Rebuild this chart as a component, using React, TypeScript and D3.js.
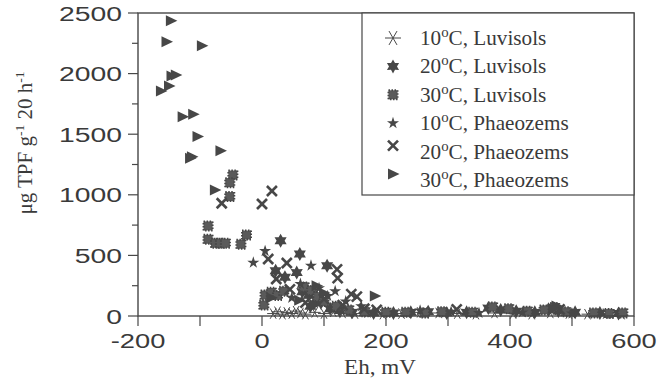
import React from 'react';
import * as d3 from 'd3';

// Eh (mV), TPF (µg g-1 20 h-1) pairs
const luv10 = [[18,20],[25,35],[33,15],[40,30],[48,20],[55,40],[62,25],[70,15],[85,30],[100,20],[115,35],[130,25],[150,20],[170,30],[195,15],[225,20],[255,30],[285,25],[315,20],[345,15],[375,25],[405,20],[435,15],[465,25],[495,20],[525,15],[555,20],[580,15]];
const luv20 = [[30,621],[61,511],[105,415],[22,374],[56,358],[37,319],[65,200],[75,170],[88,140],[95,110],[78,80],[110,60],[125,45],[145,30],[180,25],[212,25],[240,30],[268,35],[298,25],[330,30],[365,65],[385,50],[410,40],[440,30],[462,55],[478,40],[505,30],[545,25],[575,20]];
const luv30 = [[-47,1163],[-52,1100],[-52,985],[-87,743],[-87,633],[-75,600],[-67,600],[-59,600],[-34,592],[-25,668],[3,91],[5,173],[15,195],[25,170],[35,205],[68,240],[80,210],[90,160],[100,120],[120,80],[140,50],[165,35],[200,30],[232,30],[262,25],[290,35],[340,30],[372,75],[398,60],[428,40],[455,50],[472,70],[490,35],[535,25],[560,20],[582,25]];
const pha10 = [[-14,440],[5,536],[79,415],[106,165],[118,205],[135,120],[62,265],[48,150],[92,230],[160,80],[255,45],[305,35],[350,25],[420,30],[500,20]];
const pha20 = [[-65,930],[0,924],[16,1031],[10,470],[40,437],[23,305],[45,220],[121,385],[122,313],[153,160],[144,180],[185,50],[314,55],[70,110],[130,90],[165,60],[480,55],[100,140]];
const pha30 = [[-147,2436],[-154,2263],[-97,2230],[-146,1980],[-139,1988],[-150,1898],[-163,1856],[-128,1644],[-111,1664],[-104,1480],[-67,1364],[-116,1301],[-113,1314],[-76,1040],[88,250],[182,165],[475,82],[15,150],[60,130],[85,90],[100,190],[470,60]];

const xTicks = [-200, 0, 200, 400, 600];
const yTicks = [0, 500, 1000, 1500, 2000, 2500];

const series = [
  { key: 'asterisk', temp: '10', soil: 'Luvisols', data: luv10 },
  { key: 'hexagram', temp: '20', soil: 'Luvisols', data: luv20 },
  { key: 'octagram', temp: '30', soil: 'Luvisols', data: luv30 },
  { key: 'star', temp: '10', soil: 'Phaeozems', data: pha10 },
  { key: 'cross', temp: '20', soil: 'Phaeozems', data: pha20 },
  { key: 'triangle', temp: '30', soil: 'Phaeozems', data: pha30 },
];

const ink = '#474747';

const starPath = (n: number, ro: number, ri: number, rot = -Math.PI / 2) => {
  const pts = d3.range(n * 2).map(i => {
    const a = rot + (i * Math.PI) / n;
    const r = i % 2 === 0 ? ro : ri;
    return [Math.cos(a) * r, Math.sin(a) * r];
  });
  return 'M' + pts.map(p => p.join(',')).join('L') + 'Z';
};

const Marker = ({ kind, x, y, big = false }: { kind: string; x: number; y: number; big?: boolean }) => {
  const t = `translate(${x},${y})`;
  if (kind === 'asterisk') {
    const r = big ? 8 : 6;
    return (
      <g transform={t} stroke={ink} strokeWidth={1}>
        {[0, 60, 120].map(a => (
          <line key={a} x1={-r * Math.cos((a * Math.PI) / 180)} y1={-r * Math.sin((a * Math.PI) / 180)}
            x2={r * Math.cos((a * Math.PI) / 180)} y2={r * Math.sin((a * Math.PI) / 180)} />
        ))}
      </g>
    );
  }
  if (kind === 'hexagram') return <path transform={t} d={starPath(6, 7, 4)} fill={ink} />;
  if (kind === 'octagram') return (
    <rect transform={t} x={-4.5} y={-4.5} width={9} height={9} fill="#5a5a5a" stroke={ink} strokeWidth={2} strokeDasharray="1.5,1.5" />
  );
  if (kind === 'star') return <path transform={t} d={d3.symbol(d3.symbolStar, 45)()!} fill={ink} />;
  if (kind === 'cross') {
    const r = 5;
    return (
      <g transform={t} stroke={ink} strokeWidth={2.6}>
        <line x1={-r} y1={-r} x2={r} y2={r} />
        <line x1={-r} y1={r} x2={r} y2={-r} />
      </g>
    );
  }
  return <path transform={t} d="M-5,-5.5L6.5,0L-5,5.5Z" fill={ink} />;
};

export default function App() {
  const x = d3.scaleLinear().domain([-200, 600]).range([138, 634]);
  const y = d3.scaleLinear().domain([0, 2500]).range([316, 13]);
  const xMinor = d3.range(-200, 601, 100);
  const yMinor = d3.range(0, 2501, 250);
  const sans = 'Liberation Sans, Arial, sans-serif';
  const serif = 'Liberation Serif, Times New Roman, serif';

  return (
    <svg width={660} height={384} style={{ position: 'absolute', left: 0, top: 0, background: '#fff' }}>
      {/* data */}
      {series.map(s => (
        <g key={s.key}>
          {s.data.map((d, i) => <Marker key={i} kind={s.key} x={x(d[0])} y={y(d[1])} />)}
        </g>
      ))}

      {/* frame */}
      <rect x={138} y={13} width={496} height={303} fill="none" stroke={ink} strokeWidth={1.4} />

      {/* x axis */}
      {xMinor.map(v => (
        <line key={v} x1={x(v)} x2={x(v)} y1={316} y2={326} stroke={ink} strokeWidth={1.2} />
      ))}
      {xTicks.map(v => (
        <text key={v} transform={`translate(${x(v)},348) scale(1.3,1)`} textAnchor="middle"
          fontFamily={sans} fontSize={21} fill="#3a3a3a">{v}</text>
      ))}
      <text transform="translate(380,374) scale(1.1,1)" textAnchor="middle" fontFamily={serif} fontSize={21} fill="#3a3a3a">Eh, mV</text>

      {/* y axis */}
      {yMinor.map(v => (
        <line key={v} x1={v % 500 === 0 ? 128 : 132} x2={138} y1={y(v)} y2={y(v)} stroke={ink} strokeWidth={1.2} />
      ))}
      {yTicks.map(v => (
        <text key={v} transform={`translate(122,${y(v) + 7.5}) scale(1.35,1)`} textAnchor="end"
          fontFamily={sans} fontSize={21} fill="#3a3a3a">{v}</text>
      ))}
      <text transform="translate(32,143) rotate(-90) scale(1.05,1)" textAnchor="middle" fontFamily={serif} fontSize={20} fill="#3a3a3a">
        μg TPF g<tspan dy={-8} fontSize={13}>-1</tspan><tspan dy={8}> 20 h</tspan><tspan dy={-8} fontSize={13}>-1</tspan>
      </text>

      {/* legend */}
      <rect x={362} y={13} width={272} height={182} fill="#fff" stroke={ink} strokeWidth={1.2} />
      {series.map((s, i) => {
        const cy = 38 + i * 28.4;
        return (
          <g key={s.key}>
            <Marker kind={s.key} big x={393} y={cy - (i >= 4 ? 6 : 0)} />
            <text transform={`translate(420,${cy + 7}) scale(1.06,1)`} fontFamily={serif} fontSize={20} fill="#3a3a3a">
              {s.temp}<tspan dy={-8} fontSize={14}>o</tspan><tspan dy={8}>C, {s.soil}</tspan>
            </text>
          </g>
        );
      })}
    </svg>
  );
}
